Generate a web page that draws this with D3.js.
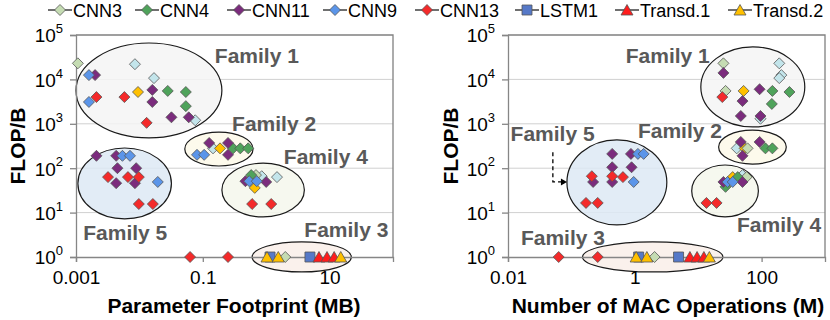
<!DOCTYPE html>
<html>
<head>
<meta charset="utf-8">
<script src="https://cdn.jsdelivr.net/npm/d3@7"></script>
<style>
    body { margin: 0; background: #fff; }
    svg { font-family: "Liberation Sans", Arial, sans-serif; }
    .tick text { font-family: "Liberation Sans", Arial, sans-serif; font-size: 19px; fill: #000; }
    .family { font-size: 21px; font-weight: bold; fill: #595959; }
    .axis-title { font-size: 21px; font-weight: bold; fill: #000; }
    .legend text { font-size: 18px; fill: #000; }
</style>
</head>
<body>
<svg id="chart" width="830" height="320"></svg>
<script>
// ---- Data ----
// points are [x, FLOP/B]; left chart x = parameter footprint (MB), right chart x = MAC operations (M)
var cnn3Param = [[0.00107, 23000], [0.69, 70], [2.0, 1]];
var cnn3Mac = [[25, 23000], [27, 5500], [60, 280], [58, 63], [2.05, 1]];

var cnn4Param = [[0.028, 5500], [0.054, 5200], [0.054, 2500], [0.30, 280], [0.39, 280], [0.52, 280], [0.58, 70]];
var cnn4Mac = [[148, 5500], [275, 5200], [145, 2800], [115, 280], [148, 280], [27, 38], [42, 63]];

var cnn11Param = [[0.002, 12500], [0.016, 5800], [0.016, 3100], [0.032, 1400], [0.060, 1400],
    [0.0021, 190], [0.0043, 190], [0.0045, 100], [0.0089, 100], [0.0043, 46], [0.0085, 46],
    [0.126, 370], [0.25, 370], [0.25, 200], [0.47, 51], [1.0, 49]];
var cnn11Mac = [[25, 14000], [93, 6000], [50, 3250], [47, 1500], [96, 1500],
    [47, 390], [93, 390], [50, 190],
    [0.44, 210], [0.87, 210], [0.44, 105], [0.89, 105], [0.22, 49], [0.44, 49],
    [25, 49], [50, 49]];

var cnn9Param = [[0.0016, 12500], [0.0016, 3100], [0.0054, 190], [0.0071, 190], [0.0195, 49],
    [0.081, 200], [0.105, 200], [0.54, 51], [0.71, 51]];
var cnn9Mac = [[1.12, 210], [1.38, 210], [0.96, 49], [29, 49], [35, 49]];

var cnn13Param = [[0.0021, 4000], [0.0058, 4000], [0.013, 1050],
    [0.0032, 63], [0.0066, 63], [0.0098, 63], [0.0098, 15.6], [0.0163, 15.6],
    [0.063, 1], [0.25, 1], [0.60, 15.6], [1.2, 15.6]];
var cnn13Mac = [[24, 4000], [0.21, 66], [0.44, 66], [0.65, 63], [0.17, 16.5], [0.26, 16.5],
    [13.5, 16.5], [19.5, 16.5], [0.063, 1], [0.26, 1]];

var lstm1Param = [[1.15, 1], [4.9, 1]];
var lstm1Mac = [[1.15, 1], [4.9, 1]];

var transd1Param = [[6.8, 1], [9.1, 1], [11.8, 1]];
var transd1Mac = [[7.4, 1], [9.6, 1], [12.3, 1]];

var transd2Param = [[1.03, 1], [1.55, 1], [15, 1]];
var transd2Mac = [[1.05, 1], [1.55, 1], [15, 1]];

// series without a legend entry (light cyan and yellow diamonds)
var cyanParam = [[0.0085, 22000], [0.017, 10700], [0.076, 1200], [0.145, 280], [0.85, 66], [1.48, 63]];
var cyanMac = [[190, 23000], [205, 12500], [190, 10700], [96, 1300], [40.5, 280], [50, 70]];
var yellowParam = [[0.0095, 5200], [0.187, 280], [0.66, 36]];
var yellowMac = [[52, 5500], [54, 280], [35, 63]];

var seriesNames = ['CNN3', 'CNN4', 'CNN11', 'CNN9', 'CNN13', 'LSTM1', 'Transd.1', 'Transd.2'];
var yTicks = [1, 10, 100, 1000, 10000, 100000];
var paramTicks = [0.001, 0.1, 10];
var macTicks = [0.01, 1, 100];

// family ellipses as data-space bounds [xMin, xMax, yMin, yMax]
var paramFamilies = [
    {name: 'Family 1', box: [0.001, 0.2, 480, 66000], fill: '#f4f4f4', label: [0.155, 23000]},
    {name: 'Family 2', box: [0.052, 0.62, 112, 650], fill: '#fdf9e9', label: [0.29, 690]},
    {name: 'Family 4', box: [0.2, 4.0, 8, 130], fill: '#f5f7ec', label: [1.9, 124]},
    {name: 'Family 5', box: [0.00107, 0.032, 7.2, 285], fill: '#dde9f5', label: [0.0013, 2.4]},
    {name: 'Family 3', box: [0.6, 22, 0.46, 2.2], fill: '#f9efe9', label: [4.0, 2.8]}
];
var macFamilies = [
    {name: 'Family 1', box: [11, 480, 850, 54000], fill: '#f4f4f4', label: [0.72, 23000]},
    {name: 'Family 2', box: [21, 245, 124, 720], fill: '#fdf9e9', label: [1.12, 480]},
    {name: 'Family 4', box: [7.9, 89, 8, 118], fill: '#f5f7ec', label: [41, 3.6]},
    {name: 'Family 5', box: [0.085, 3.2, 5.3, 435], fill: '#dde9f5', label: [0.011, 410]},
    {name: 'Family 3', box: [0.15, 24.5, 0.46, 2.2], fill: '#f9efe9', label: [0.016, 1.86]}
];

// Marker styles
var styles = {
    'cyan': {fill: '#c3e5eb', shape: 'diamond'},
    'yellow': {fill: '#ffc000', shape: 'diamond'},
    'CNN3': {fill: '#c5dcb3', shape: 'diamond'},
    'CNN4': {fill: '#4fa35b', shape: 'diamond'},
    'CNN11': {fill: '#7b2c7d', shape: 'diamond'},
    'CNN9': {fill: '#5b95e9', shape: 'diamond'},
    'CNN13': {fill: '#f42a2a', shape: 'diamond'},
    'LSTM1': {fill: '#5679c8', shape: 'square'},
    'Transd.1': {fill: '#ff1c1c', shape: 'triangle'},
    'Transd.2': {fill: '#ffc000', shape: 'triangle'}
};

function markerPath(shape) {
    if (shape === 'square') return 'M-5,-5L5,-5L5,5L-5,5Z';
    if (shape === 'triangle') return 'M0,-5.5L6,5L-6,5Z';
    return 'M0,-5.5L5.5,0L0,5.5L-5.5,0Z';
}

var svg = d3.select('#chart');

function drawChart(opts) {
    var left = opts.left, right = opts.left + 317, top = 35, bottom = 257;

    var xScale = d3.scaleLog().domain(opts.xDomain).range([left, right]);
    var yScale = d3.scaleLog().domain([1, 100000]).range([bottom, top]);

    var g = svg.append('g');

    // gridlines
    g.append('g').selectAll('line').data(yTicks.slice(1, -1)).enter().append('line')
        .attr('x1', left).attr('x2', right)
        .attr('y1', (d) => yScale(d)).attr('y2', (d) => yScale(d))
        .attr('stroke', '#d0d0d0').attr('stroke-width', 1);

    // plot box (top + right)
    g.append('path')
        .attr('d', `M${left},${top}H${right}V${bottom}`)
        .attr('fill', 'none').attr('stroke', '#808080').attr('stroke-width', 1.3);

    // family ellipses
    g.append('g').selectAll('ellipse').data(opts.families).enter().append('ellipse')
        .attr('cx', (d) => (xScale(d.box[0]) + xScale(d.box[1])) / 2)
        .attr('cy', (d) => (yScale(d.box[2]) + yScale(d.box[3])) / 2)
        .attr('rx', (d) => (xScale(d.box[1]) - xScale(d.box[0])) / 2)
        .attr('ry', (d) => (yScale(d.box[2]) - yScale(d.box[3])) / 2)
        .attr('fill', (d) => d.fill).attr('fill-opacity', 0.85)
        .attr('stroke', '#1a1a1a').attr('stroke-width', 1.2);

    // axes
    var xAxis = d3.axisBottom(xScale).tickValues(opts.xTicks).tickSize(5).tickFormat((d) => String(d));
    var gx = g.append('g').attr('transform', `translate(0,${bottom})`).call(xAxis)
        .attr('font-family', null).attr('font-size', null);
    gx.selectAll('.tick text').attr('y', 14).attr('dy', '0.71em');

    var yAxis = d3.axisLeft(yScale).tickValues(yTicks).tickSize(6).tickFormat('');
    var gy = g.append('g').attr('transform', `translate(${left},0)`).call(yAxis)
        .attr('font-family', null).attr('font-size', null);
    gy.selectAll('.tick text').remove();
    gy.selectAll('.tick').append('text')
        .attr('x', -13).attr('dy', '0.36em').attr('text-anchor', 'end')
        .each(function (d) {
            var t = d3.select(this);
            t.append('tspan').text('10');
            t.append('tspan').attr('font-size', 13).attr('dy', '-0.7em').text(Math.round(Math.log10(d)));
        });
    g.selectAll('.domain, .tick line').attr('stroke', '#868686').attr('stroke-width', 1.3);

    // family labels
    g.append('g').selectAll('text').data(opts.families).enter().append('text')
        .attr('class', 'family')
        .attr('x', (d) => xScale(d.label[0]))
        .attr('y', (d) => yScale(d.label[1]))
        .text((d) => d.name);

    // dashed arrow (right chart only)
    if (opts.arrow) {
        var a = opts.arrow;
        g.append('path')
            .attr('d', `M${xScale(a[0])},${yScale(a[1])}V${yScale(a[2])}H${xScale(a[3]) - 5}`)
            .attr('fill', 'none').attr('stroke', '#000').attr('stroke-width', 1.3).attr('stroke-dasharray', '4,3');
        g.append('path')
            .attr('d', `M${xScale(a[3])},${yScale(a[2])}l-6,-3.5v7Z`)
            .attr('fill', '#000');
    }

    // markers
    opts.series.forEach(function (s) {
        var st = styles[s.name];
        g.append('g').selectAll('path').data(s.points).enter().append('path')
            .attr('d', markerPath(st.shape))
            .attr('transform', (d) => `translate(${xScale(d[0])},${yScale(d[1])})`)
            .attr('fill', st.fill)
            .attr('stroke', '#555').attr('stroke-width', 0.8);
    });

    // axis titles
    g.append('text').attr('class', 'axis-title')
        .attr('text-anchor', 'middle')
        .attr('x', opts.xTitleX).attr('y', 313)
        .text(opts.xTitle);
    g.append('text').attr('class', 'axis-title')
        .attr('text-anchor', 'middle')
        .attr('transform', `translate(${opts.yTitleX},146) rotate(-90)`)
        .text('FLOP/B');
}

drawChart({
    left: 76,
    xDomain: [0.001, 100],
    xTicks: paramTicks,
    xTitle: 'Parameter Footprint (MB)',
    xTitleX: 234,
    yTitleX: 25,
    families: paramFamilies,
    series: [
        {name: 'cyan', points: cyanParam}, {name: 'yellow', points: yellowParam},
        {name: 'CNN3', points: cnn3Param}, {name: 'CNN4', points: cnn4Param},
        {name: 'CNN11', points: cnn11Param}, {name: 'CNN9', points: cnn9Param},
        {name: 'CNN13', points: cnn13Param}, {name: 'LSTM1', points: lstm1Param},
        {name: 'Transd.1', points: transd1Param}, {name: 'Transd.2', points: transd2Param}
    ]
});

drawChart({
    left: 508,
    xDomain: [0.01, 1000],
    xTicks: macTicks,
    xTitle: 'Number of MAC Operations (M)',
    xTitleX: 668,
    yTitleX: 458,
    families: macFamilies,
    arrow: [0.051, 230, 49, 0.085],
    series: [
        {name: 'cyan', points: cyanMac}, {name: 'yellow', points: yellowMac},
        {name: 'CNN3', points: cnn3Mac}, {name: 'CNN4', points: cnn4Mac},
        {name: 'CNN11', points: cnn11Mac}, {name: 'CNN9', points: cnn9Mac},
        {name: 'CNN13', points: cnn13Mac}, {name: 'LSTM1', points: lstm1Mac},
        {name: 'Transd.1', points: transd1Mac}, {name: 'Transd.2', points: transd2Mac}
    ]
});

// Legend
var legendX = [48, 135, 227, 323, 415, 515, 615, 728];
var legend = svg.append('g').attr('class', 'legend');
seriesNames.forEach(function (name, i) {
    var item = legend.append('g').attr('transform', `translate(${legendX[i]},10)`);
    item.append('line').attr('x1', 0).attr('x2', 24).attr('stroke', '#404040').attr('stroke-width', 1.5);
    item.append('path').attr('d', markerPath(styles[name].shape))
        .attr('transform', 'translate(12,0)')
        .attr('fill', styles[name].fill).attr('stroke', '#555').attr('stroke-width', 0.8);
    item.append('text').attr('x', 25).attr('y', 6.5).text(name);
});
</script>
</body>
</html>
